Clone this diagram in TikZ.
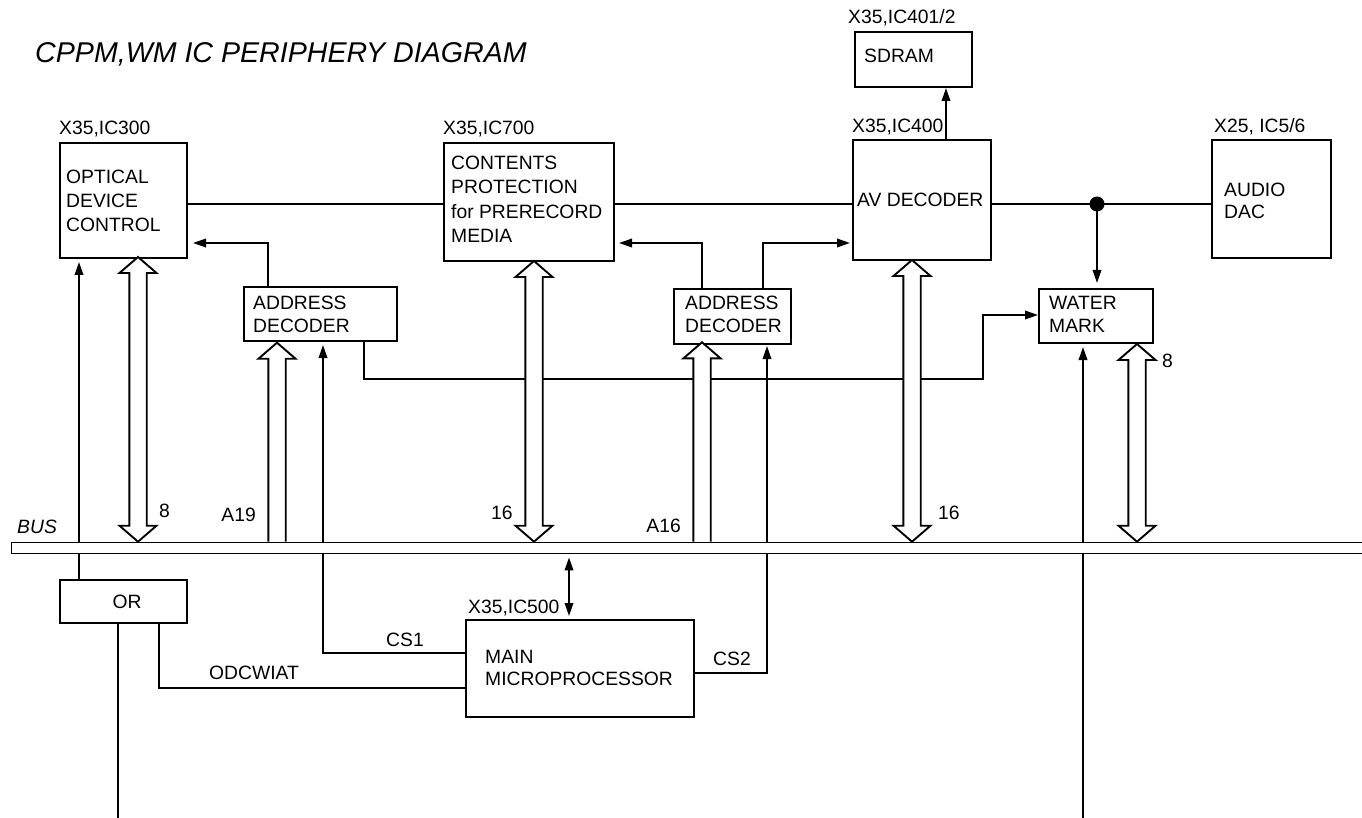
\documentclass[tikz,border=0pt]{standalone}
\usepackage{fontspec}
\setmainfont{Liberation Sans}
\usetikzlibrary{arrows.meta}
\newcommand{\wboth}[3]{%
  \draw[warrow] (#1,#2) -- ({#1+18.5},{#2+16}) -- ({#1+8.7},{#2+16}) -- ({#1+8.7},{#3-16}) -- ({#1+18.5},{#3-16}) -- (#1,#3) -- ({#1-18.5},{#3-16}) -- ({#1-8.7},{#3-16}) -- ({#1-8.7},{#2+16}) -- ({#1-18.5},{#2+16}) -- cycle;}
\newcommand{\wup}[3]{%
  \draw[warrow] ({#1-8.7},#3) -- ({#1-8.7},{#2+16}) -- ({#1-18.5},{#2+16}) -- (#1,#2) -- ({#1+18.5},{#2+16}) -- ({#1+8.7},{#2+16}) -- ({#1+8.7},#3);}
\begin{document}
\begin{tikzpicture}[x=1pt,y=-1pt,
 box/.style={draw, line width=2pt, inner sep=0pt, anchor=north west},
 wire/.style={line width=1.9pt},
 arr/.style={wire, -{Triangle[length=13pt,width=8.5pt]}},
 biarr/.style={wire, {Triangle[length=13pt,width=8.5pt]}-{Triangle[length=13pt,width=8.5pt]}},
 warrow/.style={draw, fill=white, line width=1.9pt, line join=miter},
 txt/.style={font=\fontsize{19.3}{23}\selectfont, inner sep=0pt, anchor=base west}]
\useasboundingbox[fill=white] (0,0) rectangle (1362,818);

% boxes
\node[box, minimum width=127pt, minimum height=115pt] (odc) at (59,142) {};
\node[box, minimum width=153pt, minimum height=54pt] (ad1) at (243,286) {};
\node[box, minimum width=170pt, minimum height=118pt] (cpm) at (443,142) {};
\node[box, minimum width=117pt, minimum height=55pt] (ad2) at (673,288) {};
\node[box, minimum width=138pt, minimum height=120pt] (av) at (852,139) {};
\node[box, minimum width=117pt, minimum height=55pt] (sdram) at (854,31) {};
\node[box, minimum width=119pt, minimum height=118pt] (dac) at (1211,139) {};
\node[box, minimum width=114pt, minimum height=54pt] (wm) at (1038,288) {};
\node[box, minimum width=127pt, minimum height=43pt] (or) at (59,579) {};
\node[box, minimum width=228pt, minimum height=97pt] (mp) at (465,619) {};

% texts
\node[txt, font=\fontsize{28.6}{32}\selectfont\itshape] (title) at (35,63) {CPPM,WM IC PERIPHERY DIAGRAM};
\node[txt] (l300) at (59,135) {X35,IC300};
\node[txt] (odc1) at (66,184) {OPTICAL};
\node[txt] (odc2) at (66,208) {DEVICE};
\node[txt] (odc3) at (66,232) {CONTROL};
\node[txt] (ad1a) at (253,309) {ADDRESS};
\node[txt] (ad1b) at (253,332) {DECODER};
\node[txt] (l700) at (443,135) {X35,IC700};
\node[txt] (cp1) at (451,170) {CONTENTS};
\node[txt] (cp2) at (451,194) {PROTECTION};
\node[txt] (cp3) at (451,219) {for PRERECORD};
\node[txt] (cp4) at (451,243) {MEDIA};
\node[txt] (ad2a) at (685,309) {ADDRESS};
\node[txt] (ad2b) at (685,332) {DECODER};
\node[txt] (l400) at (852,133) {X35,IC400};
\node[txt] (avt) at (857,207) {AV DECODER};
\node[txt] (l401) at (848,24) {X35,IC401/2};
\node[txt] (sdt) at (864,63) {SDRAM};
\node[txt] (l56) at (1214,133) {X25, IC5/6};
\node[txt] (dac1) at (1224,197) {AUDIO};
\node[txt] (dac2) at (1224,219) {DAC};
\node[txt] (wm1) at (1049,309) {WATER};
\node[txt] (wm2) at (1049,332) {MARK};
\node[txt] (n8a) at (159,517) {8};
\node[txt, anchor=base east] (a19) at (256,521) {A19};
\node[txt] (n16a) at (491,519) {16};
\node[txt, anchor=base east] (a16) at (681,532) {A16};
\node[txt] (n16b) at (938,519) {16};
\node[txt] (n8b) at (1162,367) {8};
\node[txt, font=\fontsize{19.3}{23}\selectfont\itshape] (buslbl) at (17,533) {BUS};
\node[txt, anchor=base] (ort) at (127,608) {OR};
\node[txt] (cs1) at (386,646) {CS1};
\node[txt] (odcw) at (209,679) {ODCWIAT};
\node[txt] (l500) at (468,613) {X35,IC500};
\node[txt] (mp1) at (485,663) {MAIN};
\node[txt] (mp2) at (485,685) {MICROPROCESSOR};
\node[txt] (cs2) at (713,665) {CS2};

% signal lines
\draw[wire] (odc.east |- 0,204) -- (cpm.west |- 0,204);
\draw[wire] (cpm.east |- 0,204) -- (av.west |- 0,204);
\draw[wire] (av.east |- 0,204) -- (dac.west |- 0,204);
\node[circle, fill, inner sep=0pt, minimum size=15pt] (jn) at (1097,204) {};
\draw[arr, shorten >=5pt] (jn.center) -- (wm.north -| jn.center);
\draw[arr] (av.north -| 946,0) -- (sdram.south -| 946,0);
\draw[arr, shorten >=5pt] (ad1.north -| 268,0) |- (odc.east |- 0,243);
\draw[arr, shorten >=4pt] (ad2.north -| 702,0) |- (cpm.east |- 0,243);
\draw[arr, shorten >=2pt] (ad2.north -| 763,0) |- (av.west |- 0,243);
\draw[arr] (ad1.south -| 364,0) -- (364,379) -| (983,315) -- (wm.west |- 0,315);

\draw[arr, shorten >=3pt] (or.north -| 79,0) -- (odc.south -| 79,0);
\draw[wire] (118,624) -- (118,818);
\draw[wire] (or.south -| 159,0) |- (mp.west |- 0,688);
\draw[arr, shorten >=3pt] (mp.west |- 0,653) -| (ad1.south -| 323,0);
\draw[arr, shorten >=1pt] (mp.east |- 0,673) -| (ad2.south -| 767,0);
\draw[arr, shorten >=3pt] (1083,818) -- (wm.south -| 1083,0);

% bus
\node[draw, fill=white, line width=1.7pt, anchor=north west, inner sep=0pt, minimum width=1370pt, minimum height=11pt] (bus) at (10.7,541.7) {};
\draw[biarr, shorten <=3pt, shorten >=3pt] (bus.south -| 569,0) -- (mp.north -| 569,0);

% wide bus arrows
\wboth{138}{257}{541.7}
\wup{277}{342.7}{541.7}
\wboth{534}{261}{541.7}
\wup{702}{342.3}{541.7}
\wboth{912}{260}{541.7}
\wboth{1137}{344}{541.7}
\end{tikzpicture}
\end{document}
